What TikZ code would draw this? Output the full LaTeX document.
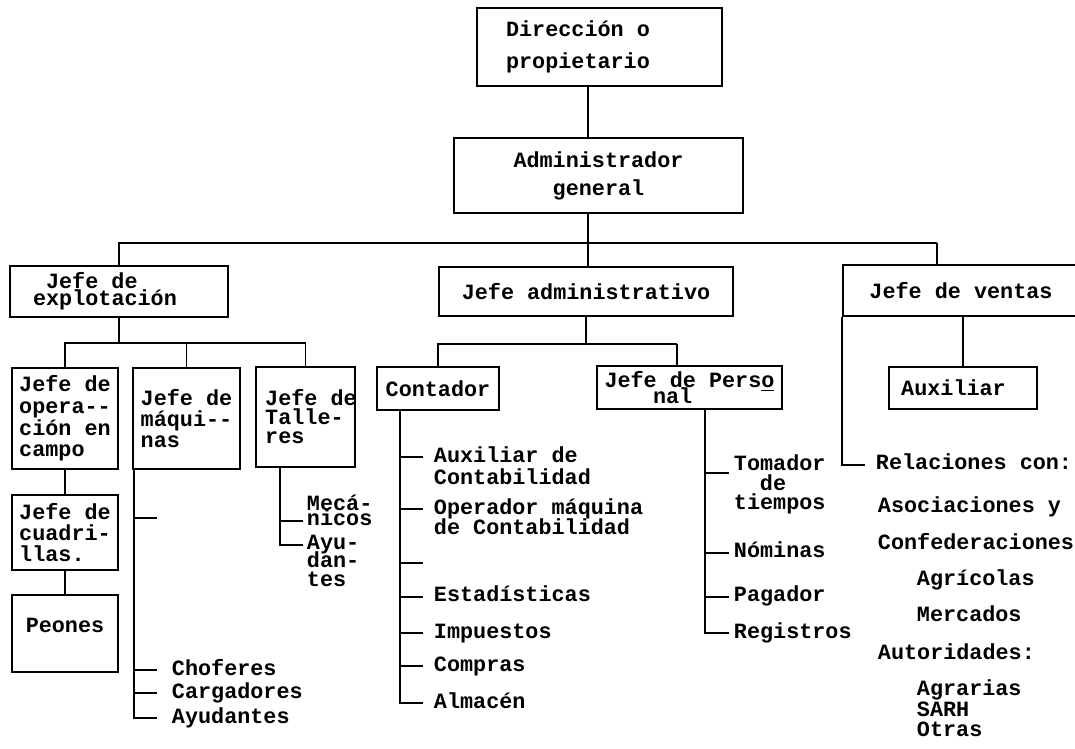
\documentclass[tikz,border=0pt]{standalone}
\usepackage{fontspec}
\setmonofont{Liberation Mono}
\usetikzlibrary{calc}
\newcommand{\orgfont}{\ttfamily\bfseries\fontsize{12.4}{13}\selectfont}

\begin{document}
\begin{tikzpicture}[x=0.02cm, y=-0.02cm, line width=1.1pt, font=\orgfont,
    box/.style={draw, rectangle, inner sep=0pt, align=center},
    leaf/.style={anchor=base west, inner sep=0pt, inner xsep=0.2cm, align=left},
    note/.style={anchor=base west, inner sep=0pt}]
        \useasboundingbox (0,0) rectangle (1075,749);

        \node[box, minimum width=4.90cm, minimum height=1.56cm, align=left] (dir) at (599.5,47) {Dirección o\hspace*{0.86cm}\\[5pt]propietario};
        \node[box, minimum width=5.78cm, minimum height=1.50cm] (admin) at (598.5,175.5) {Administrador\\[2.9pt]general};

        \node[box, minimum width=4.36cm, minimum height=1.02cm, align=left] (expl) at (119,291.5) {\hspace*{0.26cm}Jefe de\\[-3.2pt]explotación\hspace*{0.56cm}};
        \node[box, minimum width=5.88cm, minimum height=0.98cm] (admin2) at (586,291.5) {Jefe administrativo};
        \node[box, minimum width=4.72cm, minimum height=1.02cm] (ventas) at (961,290.5) {Jefe de ventas};

        \node[box, minimum width=2.12cm, minimum height=2.02cm, align=left] (oper) at (65,418.5) {Jefe de\\[-0.7pt]opera--\\[-0.7pt]ción en\\[-0.7pt]campo};
        \node[box, minimum width=2.14cm, minimum height=2.02cm, align=left] (maq) at (186.5,418.5) {Jefe de\\[-1pt]máqui--\\[-1pt]nas};
        \node[box, minimum width=1.98cm, minimum height=2.00cm, align=left] (tall) at (305.5,417) {Jefe de\hspace*{-0.22cm}\\[-2.2pt]Talle-\\[-2.2pt]res};
        \node[box, minimum width=2.12cm, minimum height=1.50cm, align=left] (cuad) at (65,532.5) {Jefe de\\[-1pt]cuadri-\\[-1pt]llas.};
        \node[box, minimum width=2.12cm, minimum height=1.54cm] (peon) at (65,633.5) {Peones\\[-4pt]\mbox{}};

        \node[box, minimum width=2.44cm, minimum height=0.86cm] (cont) at (438,388.5) {Contador};
        \node[box, minimum width=3.70cm, minimum height=0.86cm, align=left] (pers) at (689.5,387.5) {Jefe de Pers\underline{o}\\[-4.2pt]\hspace*{0.97cm}nal};
        \node[box, minimum width=2.96cm, minimum height=0.84cm, align=left] (auxv) at (963,388) {Auxiliar\hspace*{0.38cm}};

        \coordinate (s0) at (588,243);
        \coordinate (s1) at (937,243);
        \draw (dir.south -| s0) -- (admin.north -| s0);
        \draw (admin.south -| s0) -- (s0);
        \draw (expl.north) |- (s1);
        \draw (s0) -- (admin2.north -| s0);
        \draw (s1) -- (ventas.north -| s1);

        \coordinate (e0) at (119,343);
        \draw (expl.south) -- (e0);
        \draw (oper.north) |- (e0) -| (tall.north);
        \draw (maq.north) -- (maq.north |- e0);
        \draw (oper.south) -- (cuad.north);
        \draw (cuad.south) -- (peon.north);

        \coordinate (mqt) at ($(maq.south west)+(2,0)$);
        \coordinate (mq0) at (157,518);
        \node[leaf, inner xsep=0.28cm] (chof) at (157,675) {Choferes};
        \node[leaf, inner xsep=0.28cm] (carg) at (157,698) {Cargadores};
        \node[leaf, inner xsep=0.28cm] (ayuq) at (157,723) {Ayudantes};
        \draw (mqt) |- (mq0);
        \draw (mqt) |- ([yshift=2.8pt]chof.base west);
        \draw (mqt) |- ([yshift=2.8pt]carg.base west);
        \draw (mqt) |- ([yshift=2.8pt]ayuq.base west);

        \coordinate (tlt) at ($(tall.south)+(-25.5,0)$);
        \node[leaf, inner xsep=0.06cm] (mec) at (303,526) {Mecá-\\[-4.2pt]nicos};
        \node[leaf, inner xsep=0.06cm] (ayut) at (303,586) {Ayu-\\[-2.6pt]dan-\\[-2.6pt]tes};
        \draw (tlt) |- ([yshift=2.8pt]mec.base west);
        \draw (tlt) |- ([yshift=23.6pt]ayut.base west);

        \coordinate (a1) at (677,344);
        \draw (admin2.south) -- (admin2.south |- a1);
        \draw (cont.north) |- (a1);
        \draw (a1) -- (a1 |- pers.north);

        \coordinate (cnt) at ($(cont.south west)+(24,0)$);
        \coordinate (cn0) at (423,563);
        \node[leaf] (auxc) at (423,485) {Auxiliar de\\Contabilidad};
        \node[leaf] (opm) at (423,535) {Operador máquina\\[-1.1pt]de Contabilidad};
        \node[leaf] (est) at (423,602) {Estadísticas};
        \node[leaf] (imp) at (423,638) {Impuestos};
        \node[leaf] (comp) at (423,671) {Compras};
        \node[leaf] (alm) at (423,708) {Almacén};
        \draw (cnt) |- ([yshift=15.8pt]auxc.base west);
        \draw (cnt) |- ([yshift=14.7pt]opm.base west);
        \draw (cnt) |- (cn0);
        \draw (cnt) |- ([yshift=2.8pt]est.base west);
        \draw (cnt) |- ([yshift=2.8pt]imp.base west);
        \draw (cnt) |- ([yshift=2.8pt]comp.base west);
        \draw (cnt) |- ([yshift=2.8pt]alm.base west);

        \coordinate (pst) at ($(pers.south)+(15.5,0)$);
        \node[leaf, inner xsep=0.08cm] (tom) at (729,510) {Tomador\\[-1.7pt]\hspace*{0.52cm}de\\[-1.7pt]tiempos};
        \node[leaf, inner xsep=0.08cm] (nom) at (729,558) {Nóminas};
        \node[leaf, inner xsep=0.08cm] (pag) at (729,602) {Pagador};
        \node[leaf, inner xsep=0.08cm] (reg) at (729,638) {Registros};
        \draw (pst) |- ([yshift=21pt]tom.base west);
        \draw (pst) |- ([yshift=2.8pt]nom.base west);
        \draw (pst) |- ([yshift=2.8pt]pag.base west);
        \draw (pst) |- ([yshift=2.8pt]reg.base west);

        \draw (auxv.north) -- (auxv.north |- ventas.south);
        \node[leaf] (rel) at (865,470) {Relaciones con:};
        \draw (ventas.south west) |- ([yshift=2.8pt]rel.base west);

        \node[note] (aso) at (877,513) {Asociaciones y};
        \node[note] (conf) at (877,550) {Confederaciones};
        \node[note] (agri) at (916,585) {Agrícolas};
        \node[note] (merc) at (916,622) {Mercados};
        \node[note] (auto) at (877,659) {Autoridades:};
        \node[note] (agra) at (916,695) {Agrarias};
        \node[note] (sarh) at (916,716) {SARH};
        \node[note] (otr) at (916,736) {Otras};
    \end{tikzpicture}
\end{document}
